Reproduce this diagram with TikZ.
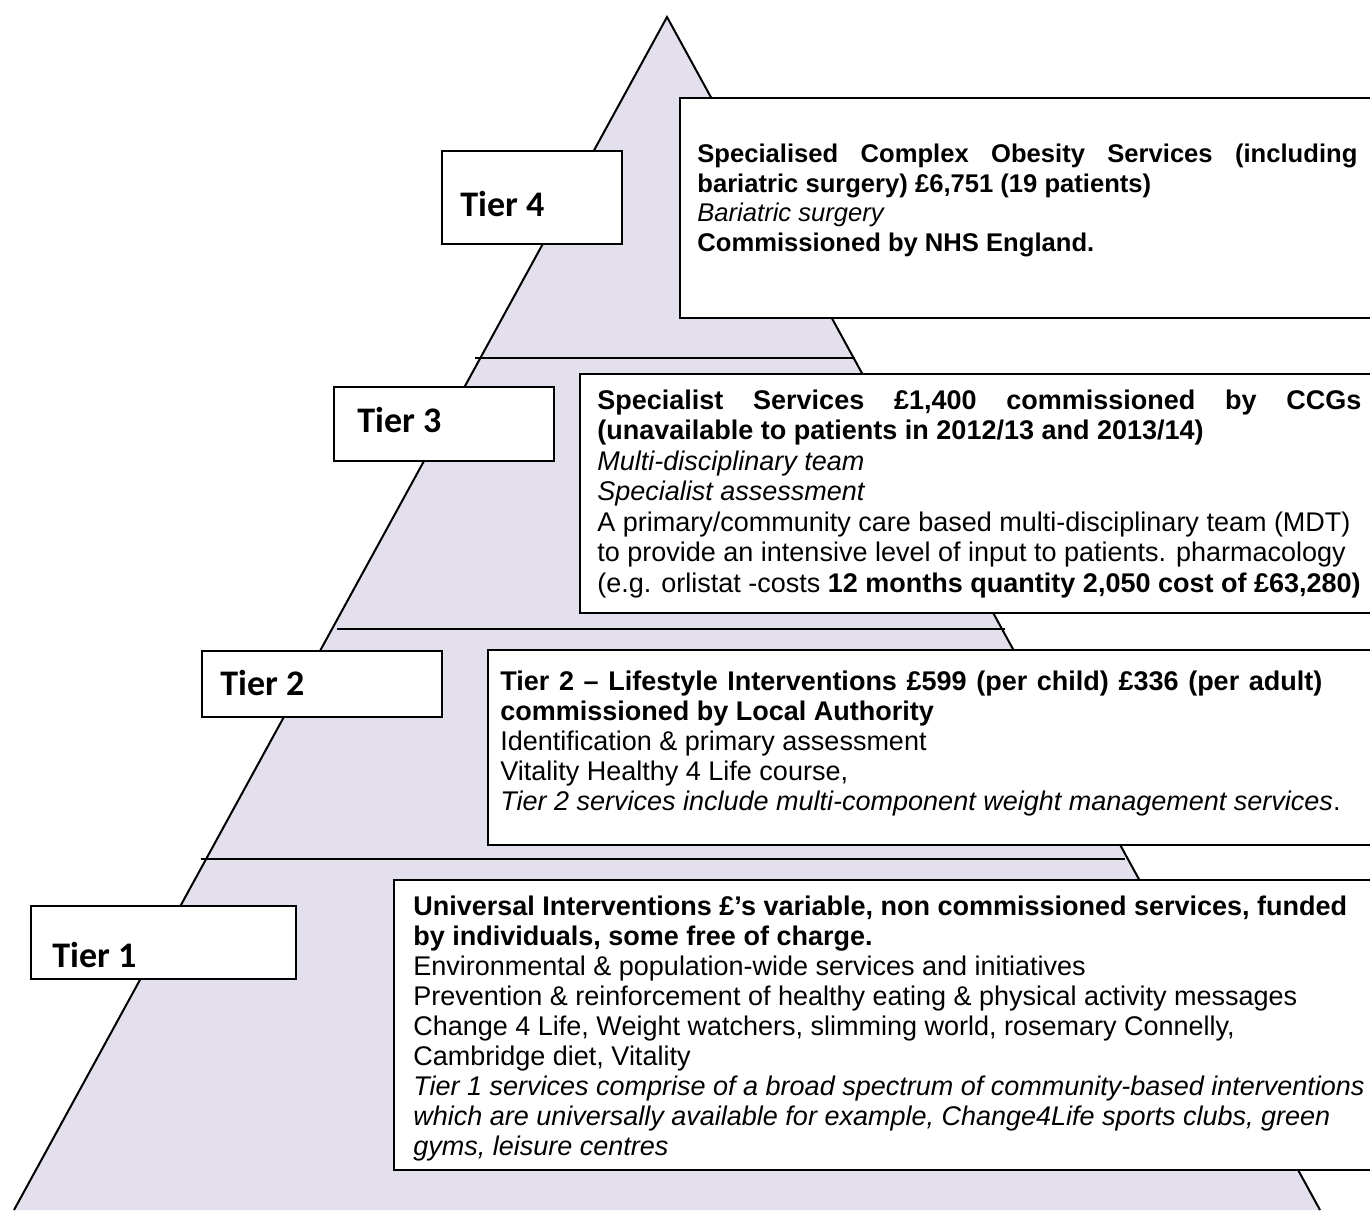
\documentclass[tikz,border=0pt]{standalone}
\usepackage{fontspec}
\setmainfont{Liberation Sans}
\newfontfamily\labelfont{Carlito}
\definecolor{pyrfill}{RGB}{228,223,236}
\tikzset{
  edge/.style={line width=1pt, black},
  tierline/.style={line width=1pt, black},
  panel/.style={draw, fill=white, line width=0.9pt, inner sep=0pt, anchor=north west},
  tierlabel/.style={font=\labelfont\fontsize{18}{22}\selectfont\bfseries, inner sep=0pt, anchor=base west},
  bodytxt/.style={font=\fontsize{13.5}{16}\selectfont, inner sep=0pt, anchor=base west},
  toptxt/.style={font=\fontsize{12.8}{15}\selectfont, inner sep=0pt, anchor=base west}
}
\begin{document}
\begin{tikzpicture}[x=0.5pt,y=-0.5pt]
\useasboundingbox (0,0) rectangle (1370,1210);
% pyramid body
\coordinate (apex) at (667,17);
\coordinate (bl) at (14,1210);
\coordinate (br) at (1320,1210);
\fill[pyrfill] (apex) -- (bl) -- (br) -- cycle;
\draw[edge, line join=miter] (bl) -- (apex) -- (br);
% tier dividers
\coordinate (d1l) at (475,358); \coordinate (d1r) at (855,358);
\coordinate (d2l) at (337,629); \coordinate (d2r) at (1005,629);
\coordinate (d3l) at (201,859); \coordinate (d3r) at (1125,859);
\draw[tierline] (d1l) -- (d1r);
\draw[tierline] (d2l) -- (d2r);
\draw[tierline] (d3l) -- (d3r);

% ---------- Tier 4 ----------
\node[panel, minimum width=90pt, minimum height=46.5pt] (b4l) at (441,150) {};
\node[tierlabel] (l4) at (460,216) {Tier 4};
\node[panel, minimum width=350.5pt, minimum height=110pt] (b4d) at (679,97) {};
\node[toptxt, font=\fontsize{12.8}{15}\selectfont\bfseries] (t4a) at (697,162)
  {\makebox[330pt][s]{Specialised Complex Obesity Services (including}};
\node[toptxt, font=\fontsize{12.8}{15}\selectfont\bfseries] (t4b) at (697,192) {bariatric surgery) £6,751 (19 patients)};
\node[toptxt, font=\fontsize{12.8}{15}\selectfont\itshape] (t4c) at (697,221) {Bariatric surgery};
\node[toptxt, font=\fontsize{12.8}{15}\selectfont\bfseries] (t4d) at (697,251) {Commissioned by NHS England.};

% ---------- Tier 3 ----------
\node[panel, minimum width=110pt, minimum height=37pt] (b3l) at (333,386) {};
\node[tierlabel] (l3) at (357,432) {Tier 3};
\node[panel, minimum width=400.5pt, minimum height=119.5pt] (b3d) at (579,373) {};
\node[bodytxt, font=\fontsize{13.5}{16}\selectfont\bfseries] (t3a) at (597,409)
  {\makebox[382pt][s]{Specialist Services £1,400 commissioned by CCGs}};
\node[bodytxt, font=\fontsize{13.5}{16}\selectfont\bfseries] (t3b) at (597,439.5) {(unavailable to patients in 2012/13 and 2013/14)};
\node[bodytxt, font=\fontsize{13.5}{16}\selectfont\itshape] (t3c) at (597,470) {Multi-disciplinary team};
\node[bodytxt, font=\fontsize{13.5}{16}\selectfont\itshape] (t3d) at (597,500.5) {Specialist assessment};
\node[bodytxt] (t3e) at (597,531) {A primary/community care based multi-disciplinary team (MDT)};
\node[bodytxt] (t3f) at (597,561.5) {to provide an intensive level of input to patients. pharmacology};
\node[bodytxt] (t3g) at (597,592) {(e.g. orlistat -costs \textbf{12 months quantity 2,050 cost of £63,280)}};

% ---------- Tier 2 ----------
\node[panel, minimum width=120pt, minimum height=33pt] (b2l) at (201,650) {};
\node[tierlabel] (l2) at (220,695) {Tier 2};
\node[panel, minimum width=446.5pt, minimum height=97.5pt] (b2d) at (487,649) {};
\node[bodytxt, font=\fontsize{13.5}{16}\selectfont\bfseries] (t2a) at (500,690)
  {\makebox[411pt][s]{Tier 2 – Lifestyle Interventions £599 (per child) £336 (per adult)}};
\node[bodytxt, font=\fontsize{13.5}{16}\selectfont\bfseries] (t2b) at (500,720) {commissioned by Local Authority};
\node[bodytxt] (t2c) at (500,750) {Identification \& primary assessment};
\node[bodytxt] (t2d) at (500,780) {Vitality Healthy 4 Life course,};
\node[bodytxt] (t2e) at (500,810) {\textit{Tier 2 services include multi-component weight management services}.};

% ---------- Tier 1 ----------
\node[panel, minimum width=132.5pt, minimum height=36.5pt] (b1l) at (30,905) {};
\node[tierlabel] (l1) at (52,967) {Tier 1};
\node[panel, minimum width=495pt, minimum height=145pt] (b1d) at (393,879) {};
\node[bodytxt, font=\fontsize{13.5}{16}\selectfont\bfseries] (t1a) at (413,915) {Universal Interventions £’s variable, non commissioned services, funded};
\node[bodytxt, font=\fontsize{13.5}{16}\selectfont\bfseries] (t1b) at (413,945) {by individuals, some free of charge.};
\node[bodytxt] (t1c) at (413,975) {Environmental \& population-wide services and initiatives};
\node[bodytxt] (t1d) at (413,1005) {Prevention \& reinforcement of healthy eating \& physical activity messages};
\node[bodytxt] (t1e) at (413,1035) {Change 4 Life, Weight watchers, slimming world, rosemary Connelly,};
\node[bodytxt] (t1f) at (413,1065) {Cambridge diet, Vitality};
\node[bodytxt, font=\fontsize{13.5}{16}\selectfont\itshape] (t1g) at (413,1095) {Tier 1 services comprise of a broad spectrum of community-based interventions};
\node[bodytxt, font=\fontsize{13.5}{16}\selectfont\itshape] (t1h) at (413,1125) {which are universally available for example, Change4Life sports clubs, green};
\node[bodytxt, font=\fontsize{13.5}{16}\selectfont\itshape] (t1i) at (413,1155) {gyms, leisure centres};
\end{tikzpicture}
\end{document}
